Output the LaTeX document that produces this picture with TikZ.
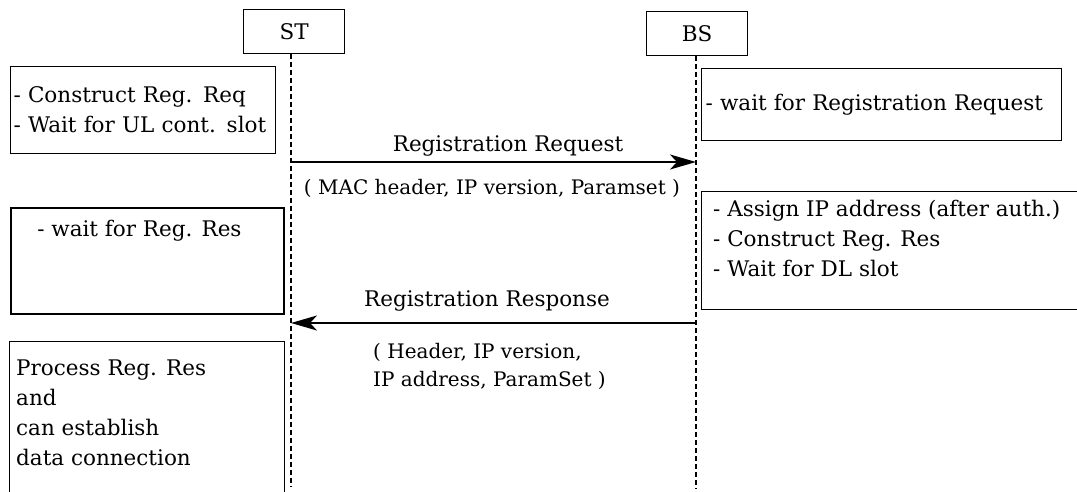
\documentclass[tikz,border=0pt]{standalone}
\usepackage{fontspec}
\setmainfont{DejaVu Serif}
\usetikzlibrary{arrows.meta}
\begin{document}
\begin{tikzpicture}[x=1pt,y=-1pt,
  every node/.style={font=\fontsize{21.5}{30}\selectfont, inner sep=0pt},
  params/.style={font=\fontsize{20}{28}\selectfont},
  entity/.style={draw, line width=1.2pt, minimum width=101pt, minimum height=44pt, anchor=north west},
  note/.style={draw, line width=1.2pt, anchor=north west},
  lifeline/.style={line width=1.6pt, dash pattern=on 5pt off 3pt},
  msg/.style={line width=1.8pt, -{Stealth[length=26pt,width=15pt,inset=7pt]}}]
\useasboundingbox (0,0) rectangle (1077,491);
\clip (0,0) rectangle (1077,491);

% participants
\node[entity] (st) at (243,9) {ST};
\node[entity] (bs) at (646,11) {BS};
\coordinate (stEnd) at (291,487);
\coordinate (bsEnd) at (696,489);
\draw[lifeline] (st.south -| stEnd) -- (stEnd);
\draw[lifeline] (bs.south -| bsEnd) -- (bsEnd);

% state boxes on the ST side
\node[note, minimum width=265pt, minimum height=87pt, align=left, text width=259pt, inner xsep=3pt] (stA) at (10,66)
  {- Construct Reg. Req\\- Wait for UL cont. slot};
\node[note, line width=1.8pt, minimum width=273pt, minimum height=106pt] (stB) at (10,207) {};
\node[anchor=north] at ([xshift=-8pt,yshift=-13pt]stB.north) {- wait for Reg. Res};
\node[note, minimum width=275pt, minimum height=170pt] (stC) at (9,341) {};
\node[anchor=north west, align=left] at ([xshift=7pt,yshift=-19pt]stC.north west)
  {Process Reg. Res\\and\\can establish\\data connection};

% state boxes on the BS side
\node[note, minimum width=360pt, minimum height=72pt, align=left, text width=352pt, inner xsep=4pt] (bsA) at (701,68)
  {- wait for Registration Request};
\node[note, minimum width=420pt, minimum height=118pt] (bsB) at (701,191) {};
\node[anchor=north west, align=left] at ([xshift=12pt,yshift=-9pt]bsB.north west)
  {- Assign IP address (after auth.)\\- Construct Reg. Res\\- Wait for DL slot};

% messages
\coordinate (reqS) at (291,162);
\coordinate (reqE) at (696,162);
\draw[msg] (reqS) -- (reqE);
\node at (508,146) {Registration Request};
\node[params] at (492,188) {( MAC header, IP version, Paramset )};

\coordinate (resS) at (696,323);
\coordinate (resE) at (291,323);
\draw[msg] (resS) -- (resE);
\node at (487,301) {Registration Response};
\node[params, anchor=north west, align=left] at (373,343) {( Header, IP version,\\IP address, ParamSet )};
\end{tikzpicture}
\end{document}
